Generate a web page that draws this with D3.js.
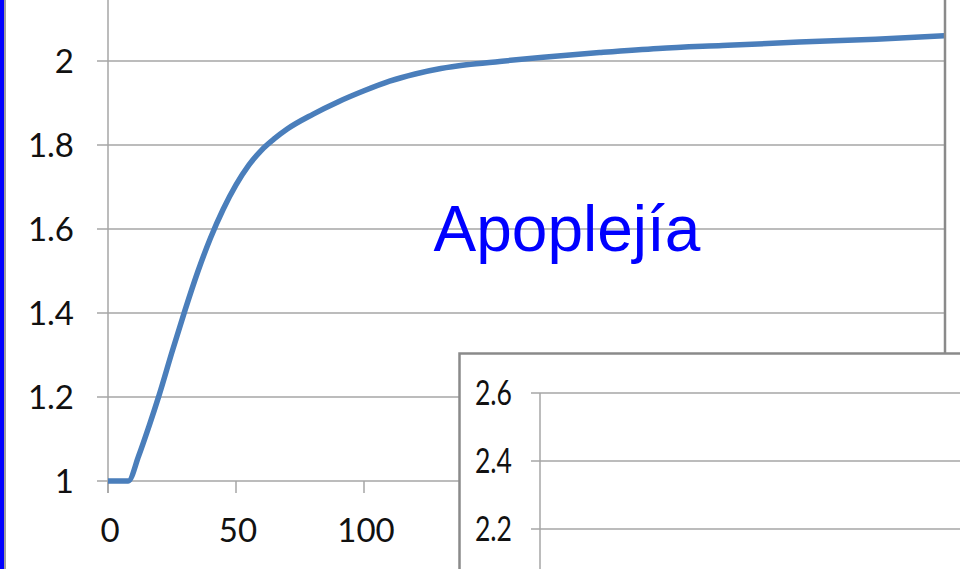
<!DOCTYPE html>
<html>
<head>
<meta charset="utf-8">
<script src="https://cdn.jsdelivr.net/npm/d3@7"></script>
<style>
  html, body { margin: 0; padding: 0; background: #fff; }
  svg { display: block; }
</style>
</head>
<body>
<svg id="chart" width="960" height="569"></svg>
<script>
// Stroke recovery curve (main chart)
const timeValues = [0, 7.9, 12, 16, 20, 25, 30, 35, 40, 45, 50, 55, 60, 65, 70, 80, 90, 100,
  110, 120, 130, 140, 153, 170, 192, 215, 240, 270, 300, 327];
const scoreValues = [1, 1, 1.06, 1.13, 1.205, 1.307, 1.405, 1.497, 1.578, 1.647, 1.705, 1.752, 1.788,
  1.815, 1.838, 1.873, 1.903, 1.929, 1.952, 1.969, 1.982, 1.991, 1.999, 2.009, 2.02, 2.03, 2.037,
  2.045, 2.052, 2.06];

const yTicks = [1, 1.2, 1.4, 1.6, 1.8, 2];
const xTicks = [0, 50, 100];
const insetTicks = [2.2, 2.4, 2.6];
const titleText = "Apoplejía";

const svg = d3.select("#chart");
const gridColor = "#a6a6a6";
const labelFont = "Lato, 'Open Sans', sans-serif";

// Left accent bar
svg.append("rect").attr("x", 0).attr("y", 0).attr("width", 4).attr("height", 569).attr("fill", "#0000ff");
svg.append("rect").attr("x", 4).attr("y", 0).attr("width", 2).attr("height", 569).attr("fill", "#a0a0a0");

// Main plot scales
const x = d3.scaleLinear().domain([0, 350]).range([108, 108 + 350 * 2.56]);
const y = d3.scaleLinear().domain([1, 2.2]).range([481, -23]);
const plotRight = 944;

svg.append("defs").append("clipPath").attr("id", "plotClip")
  .append("rect").attr("x", 0).attr("y", -40).attr("width", plotRight).attr("height", 600);

const main = svg.append("g").attr("clip-path", "url(#plotClip)");

// Horizontal gridlines with outer tick marks
main.selectAll("line.grid").data(yTicks).join("line")
  .attr("class", "grid")
  .attr("x1", 97).attr("x2", plotRight)
  .attr("y1", d => y(d)).attr("y2", d => y(d))
  .attr("stroke", gridColor).attr("stroke-width", 1.5);

// Vertical axis line
main.append("line")
  .attr("x1", x(0)).attr("x2", x(0))
  .attr("y1", -30).attr("y2", y(1) + 12)
  .attr("stroke", gridColor).attr("stroke-width", 1.5);

// X tick marks
main.selectAll("line.xtick").data(xTicks).join("line")
  .attr("class", "xtick")
  .attr("x1", d => x(d)).attr("x2", d => x(d))
  .attr("y1", y(1)).attr("y2", y(1) + 12)
  .attr("stroke", gridColor).attr("stroke-width", 1.5);

// Y tick labels
svg.selectAll("text.ylab").data(yTicks).join("text")
  .attr("class", "ylab")
  .attr("x", 74).attr("y", d => y(d))
  .attr("dy", "0.35em")
  .attr("text-anchor", "end")
  .attr("font-family", labelFont).attr("font-size", 33)
  .attr("fill", "#111")
  .text(d => d3.format("~g")(d));

// X tick labels
svg.selectAll("text.xlab").data(xTicks).join("text")
  .attr("class", "xlab")
  .attr("x", d => x(d) + 2).attr("y", 542)
  .attr("text-anchor", "middle")
  .attr("font-family", labelFont).attr("font-size", 33)
  .attr("fill", "#111")
  .text(d => d);

// Curve
const pts = timeValues.map((t, i) => [t, scoreValues[i]]);
main.append("path")
  .datum(pts)
  .attr("fill", "none")
  .attr("stroke", "#4a7ebb")
  .attr("stroke-width", 5.5)
  .attr("stroke-linejoin", "round")
  .attr("d", d3.line().x(d => x(d[0])).y(d => y(d[1])).curve(d3.curveMonotoneX));

// Plot frame on the right
svg.append("line")
  .attr("x1", plotRight + 1).attr("x2", plotRight + 1)
  .attr("y1", 0).attr("y2", 569)
  .attr("stroke", "#8a8a8a").attr("stroke-width", 2.5);

// Title
svg.append("text")
  .attr("x", 567).attr("y", 251)
  .attr("text-anchor", "middle")
  .attr("font-family", "'Liberation Sans', Arial, sans-serif")
  .attr("font-size", 64)
  .attr("fill", "#0000ff")
  .text(titleText);

// Inset chart panel
const inset = svg.append("g");
inset.append("rect")
  .attr("x", 459.5).attr("y", 353.5).attr("width", 540).attr("height", 260)
  .attr("fill", "#fff").attr("stroke", "#8a8a8a").attr("stroke-width", 2.5);

const yi = d3.scaleLinear().domain([2, 2.6]).range([597, 393]);

inset.selectAll("line.igrid").data(insetTicks).join("line")
  .attr("class", "igrid")
  .attr("x1", 531).attr("x2", 960)
  .attr("y1", d => yi(d)).attr("y2", d => yi(d))
  .attr("stroke", gridColor).attr("stroke-width", 1.5);

inset.append("line")
  .attr("x1", 540).attr("x2", 540)
  .attr("y1", yi(2.6)).attr("y2", 569)
  .attr("stroke", gridColor).attr("stroke-width", 1.5);

// Narrow tick labels of the inset (horizontally condensed)
inset.selectAll("text.ilab").data(insetTicks).join("text")
  .attr("class", "ilab")
  .attr("transform", d => `translate(512,${yi(d)}) scale(0.78,1)`)
  .attr("dy", "0.36em")
  .attr("text-anchor", "end")
  .attr("font-family", labelFont)
  .attr("font-size", 34)
  .attr("fill", "#111")
  .text(d => d.toFixed(1));
</script>
</body>
</html>
